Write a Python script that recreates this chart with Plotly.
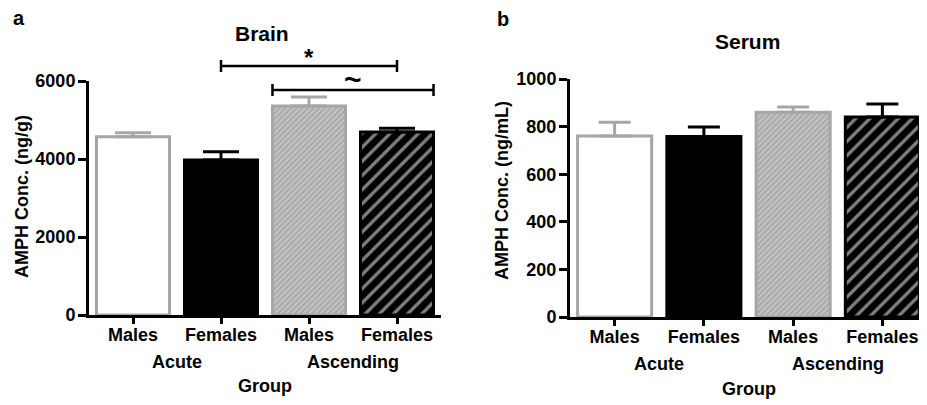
import plotly.graph_objects as go

# ---- data ----
sex_labels = ["Males", "Females", "Males", "Females"]
group_labels = ["Acute", "Ascending"]
brain_mean = [4570, 3975, 5360, 4690]
brain_sem = [100, 210, 230, 100]
serum_mean = [760, 758, 860, 840]
serum_sem = [58, 40, 22, 55]
# significance comparisons for brain: (x from, x to, label)
brain_sig = [(1.0, 3.0, "*"), (1.585, 3.415, "~")]

W, H = 927, 405
OFF = 8  # page body margin in the browser
FONT = "Liberation Sans"
GRAY = "#a6a6a6"
BLK = "#000000"


def px(x):
    return (x - OFF) / W


def py(y):
    return 1 - (y - OFF) / H


styles = [
    dict(color="white", line=dict(color=GRAY, width=3)),
    dict(color=BLK, line=dict(color=BLK, width=3)),
    dict(color=GRAY, line=dict(color=GRAY, width=3),
         pattern=dict(shape="/", bgcolor="#a9a9a9", fgcolor="#e8e8e8", size=4, solidity=0.45)),
    dict(color=BLK, line=dict(color=BLK, width=3),
         pattern=dict(shape="/", bgcolor=BLK, fgcolor="white", size=10, solidity=0.33)),
]
err_colors = [GRAY, BLK, GRAY, BLK]

fig = go.Figure()
positions = list(range(len(sex_labels)))


def add_panel(means, sems, xa, ya, capw):
    for i in positions:
        fig.add_trace(go.Bar(
            x=[positions[i]], y=[means[i]], width=0.83,
            marker=styles[i],
            error_y=dict(type="data", array=[sems[i]], arrayminus=[0], symmetric=False,
                         color=err_colors[i], thickness=3, width=capw),
            xaxis=xa, yaxis=ya, showlegend=False,
        ))


add_panel(brain_mean, brain_sem, "x", "y", 18)
add_panel(serum_mean, serum_sem, "x2", "y2", 16)

# significance brackets (vertical placement in pixels from the top)
bracket_py = [66, 90]
label_py = [57, 79]
cap_px = 6
for (x0, x1, lab), b_y, l_y in zip(brain_sig, bracket_py, label_py):
    yc = py(b_y)
    dy = cap_px / H
    line = dict(color=BLK, width=2.5)
    fig.add_shape(type="line", xref="x", yref="paper", x0=x0, x1=x1, y0=yc, y1=yc, line=line)
    fig.add_shape(type="line", xref="x", yref="paper", x0=x0, x1=x0, y0=yc - dy, y1=yc + dy, line=line)
    fig.add_shape(type="line", xref="x", yref="paper", x0=x1, x1=x1, y0=yc - dy, y1=yc + dy, line=line)
    fig.add_annotation(x=(x0 + x1) / 2, y=py(l_y), xref="x", yref="paper", text=lab,
                       showarrow=False, yanchor="middle",
                       font=dict(family=FONT, size=24 if lab == "*" else 30, color=BLK, weight="bold"))

tickfont = dict(family=FONT, size=18, color=BLK, weight="bold")
axis_common = dict(showline=True, linewidth=3, linecolor=BLK, ticks="outside",
                   tickwidth=3, tickcolor=BLK, showgrid=False,
                   zeroline=False, tickfont=tickfont, fixedrange=True, automargin=False)
xax = dict(ticklen=6, ticklabelstandoff=-5, range=[-0.5, 3.5], tickvals=positions,
           ticktext=sex_labels, **axis_common)
yax = dict(ticklen=8, ticklabelstandoff=-1, **axis_common)

fig.update_layout(
    width=W, height=H, margin=dict(l=0, r=0, t=0, b=0, autoexpand=False),
    paper_bgcolor="white", plot_bgcolor="white", barmode="overlay",
    xaxis=dict(domain=[px(89), px(441)], anchor="y", **xax),
    yaxis=dict(domain=[py(315), py(81)], range=[0, 6000], tickvals=[0, 2000, 4000, 6000],
               anchor="x", **yax),
    xaxis2=dict(domain=[px(570), px(927)], anchor="y2", **xax),
    yaxis2=dict(domain=[py(317), py(79)], range=[0, 1000],
                tickvals=[0, 200, 400, 600, 800, 1000], anchor="x2", **yax),
)


def ann(text, x_px, y_px, size, angle=0, xref="paper", xval=None):
    fig.add_annotation(
        x=xval if xval is not None else px(x_px), y=py(y_px),
        xref=xref, yref="paper", text=text, showarrow=False, textangle=angle,
        xanchor="center", yanchor="middle",
        font=dict(family=FONT, size=size, color=BLK, weight="bold"))


# panel letters and titles
ann("a", 19, 18, 20)
ann("b", 503, 19, 20)
ann("Brain", 262, 33, 21)
ann("Serum", 747, 42, 21)
# y titles
ann("AMPH Conc. (ng/g)", 22, 197, 18, angle=-90)
ann("AMPH Conc. (ng/mL)", 502, 190, 18, angle=-90)
# group labels
for k, g in enumerate(group_labels):
    ann(g, 0, 362, 18, xref="x", xval=2 * k + 0.5)
    ann(g, 0, 364, 18, xref="x2", xval=2 * k + 0.5)
ann("Group", 265, 386, 18)
ann("Group", 749, 389, 18)

fig.write_html("out.html")
